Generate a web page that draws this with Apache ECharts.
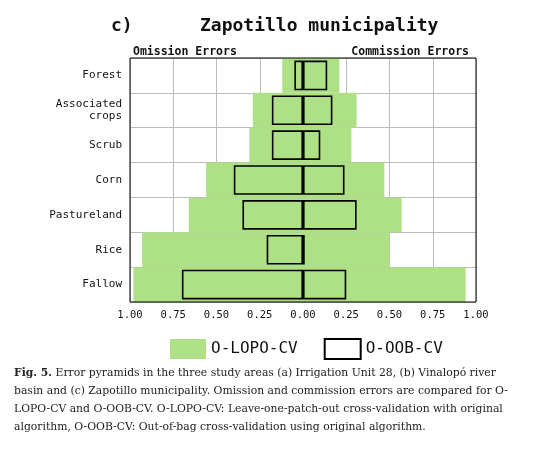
<!DOCTYPE html>
<html><head><meta charset="utf-8">
<script src="https://cdn.jsdelivr.net/npm/echarts@6/dist/echarts.min.js"></script>
<style>body{margin:0;background:#fff}#c{width:534px;height:450px}
#cap{position:absolute;left:14px;top:364px;width:500px;font-family:"DejaVu Serif",serif;font-size:10.8px;line-height:18px;color:#222}</style>
</head><body><div id="c"></div>
<div id="cap"><b>Fig. 5.</b> Error pyramids in the three study areas (a) Irrigation Unit 28, (b) Vinalopó river basin and (c) Zapotillo municipality. Omission and commission errors are compared for O-LOPO-CV and O-OOB-CV. O-LOPO-CV: Leave-one-patch-out cross-validation with original algorithm, O-OOB-CV: Out-of-bag cross-validation using original algorithm.</div>
<script>
const categories=["Forest","Associated\ncrops","Scrub","Corn","Pastureland","Rice","Fallow"];
const lopoOmission=[0.12,0.29,0.31,0.56,0.66,0.93,0.98];
const lopoCommission=[0.21,0.31,0.28,0.47,0.57,0.50,0.94];
const oobOmission=[0.05,0.18,0.18,0.40,0.35,0.21,0.70];
const oobCommission=[0.14,0.17,0.10,0.24,0.31,0.01,0.25];
const mono='DejaVu Sans Mono';
const neg=a=>a.map(v=>-v);
const ch=echarts.init(document.getElementById('c'));
ch.setOption({
 animation:false,
 textStyle:{fontFamily:mono},
 title:[{text:'c)',left:106,top:12,textStyle:{fontFamily:mono,fontSize:18,fontWeight:'bold',color:'#111'}},
  {text:'Zapotillo municipality',left:195,top:12,textStyle:{fontFamily:mono,fontSize:18,fontWeight:'bold',color:'#111'}},
  {text:'Omission Errors',left:128,top:41,textStyle:{fontFamily:mono,fontSize:11.5,fontWeight:'bold',color:'#111'}},
  {text:'Commission Errors',right:60,top:41,textStyle:{fontFamily:mono,fontSize:11.5,fontWeight:'bold',color:'#111'}}],
 legend:{top:333,left:165,itemWidth:36,itemHeight:20,itemGap:26,icon:'rect',
  textStyle:{fontFamily:mono,fontSize:16,color:'#111'},
  data:[{name:'O-LOPO-CV',itemStyle:{color:'#aee085',borderWidth:0}},{name:'O-OOB-CV',itemStyle:{color:'#fff',borderColor:'#000',borderWidth:2}}]},
 grid:{left:130,right:58,top:58,bottom:148},
 xAxis:{type:'value',min:-1,max:1,interval:0.25,
  axisLine:{show:false},axisTick:{show:false},
  axisLabel:{fontFamily:mono,fontSize:10.5,color:'#111',formatter:v=>Math.abs(v).toFixed(2)},
  splitLine:{lineStyle:{color:'#bbb'}}},
 yAxis:[{type:'category',data:categories,inverse:true,
  axisLine:{show:false},axisTick:{show:false},
  axisLabel:{fontFamily:mono,fontSize:11,color:'#111',lineHeight:12},splitLine:{show:true,lineStyle:{color:'#bbb'}}},
  {type:'category',data:categories,inverse:true,show:false}],
 graphic:[{type:'rect',shape:{x:130,y:58,width:346,height:244},style:{fill:'none',stroke:'#000',lineWidth:1},z:100}],
 series:[
  {name:'O-LOPO-CV',type:'bar',stack:'g',data:neg(lopoOmission),barWidth:'100%',itemStyle:{color:'#aee085'}},
  {name:'O-LOPO-CV',type:'bar',stack:'g',data:lopoCommission,barWidth:'100%',itemStyle:{color:'#aee085'}},
  {name:'O-OOB-CV',type:'bar',stack:'o',yAxisIndex:1,data:neg(oobOmission),barWidth:'85%',itemStyle:{color:'rgba(0,0,0,0)',borderColor:'#000',borderWidth:1.6},z:5},
  {name:'O-OOB-CV',type:'bar',stack:'o',yAxisIndex:1,data:oobCommission,barWidth:'85%',itemStyle:{color:'rgba(0,0,0,0)',borderColor:'#000',borderWidth:1.6},z:5}
 ]
});
</script></body></html>
